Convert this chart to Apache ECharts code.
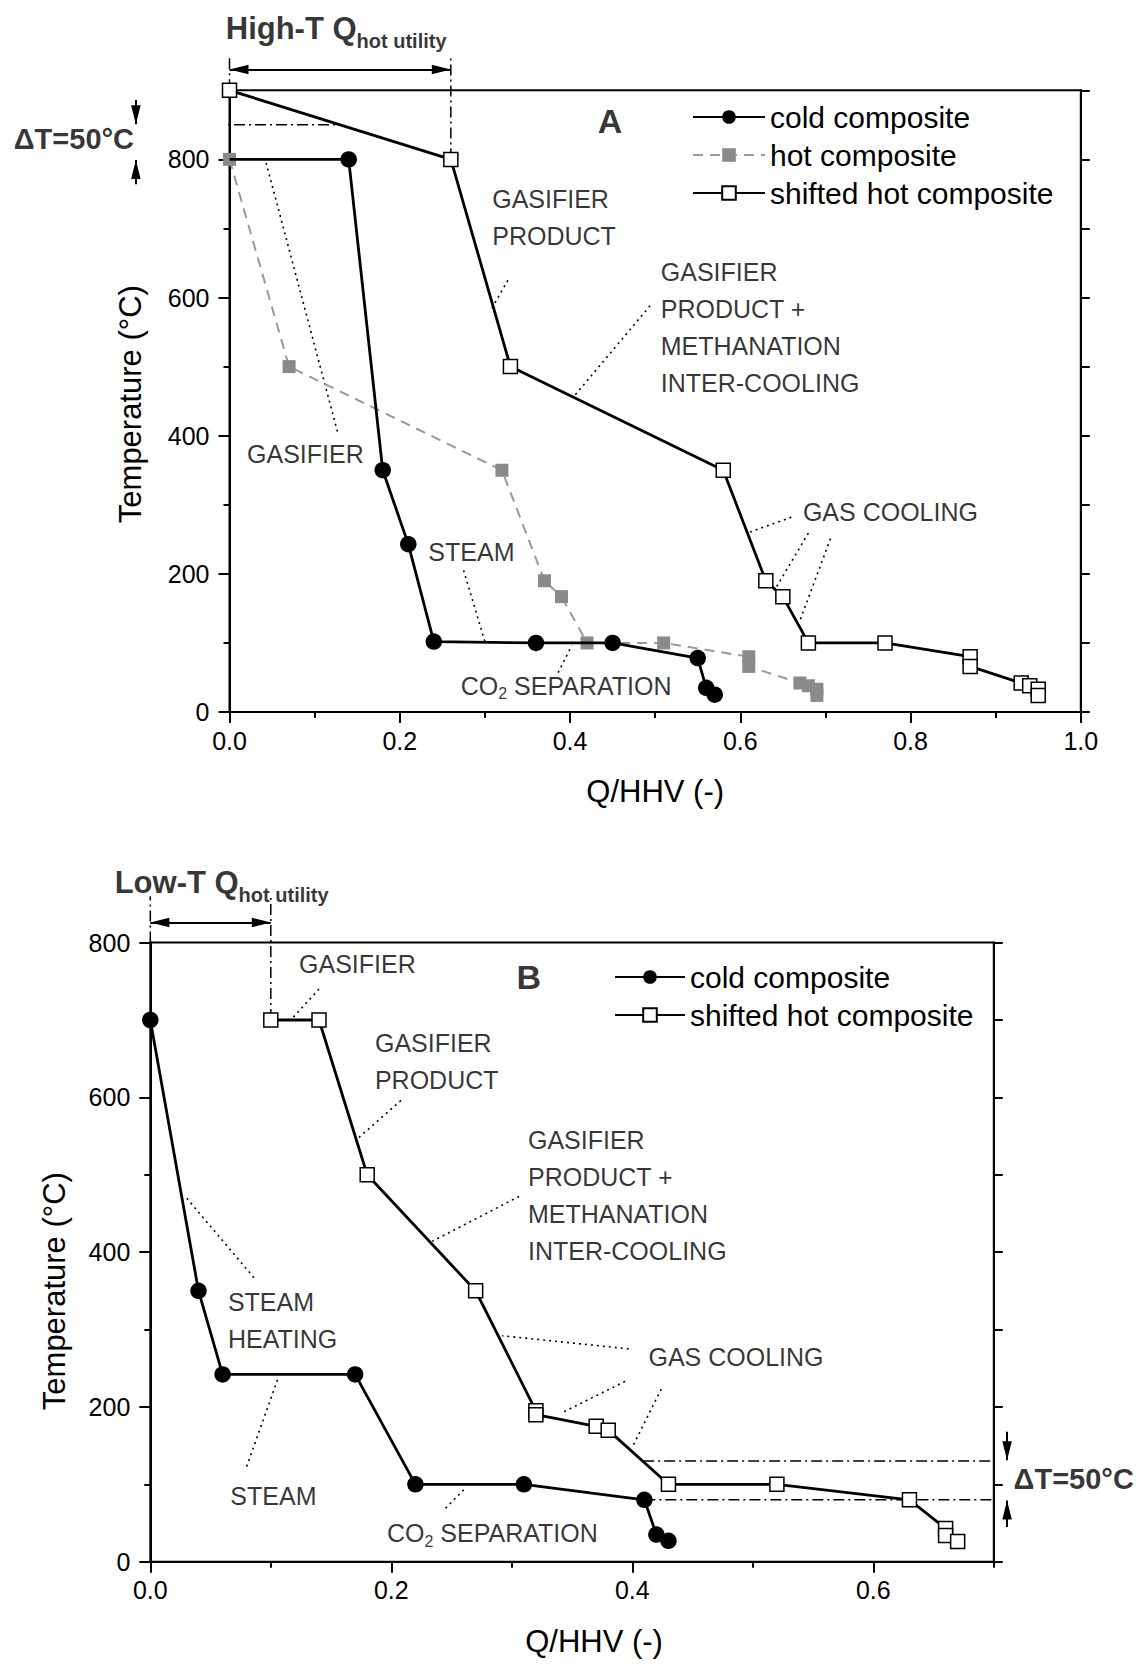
<!DOCTYPE html>
<html>
<head>
<meta charset="utf-8">
<script src="https://cdn.jsdelivr.net/npm/echarts@6.0.0/dist/echarts.min.js"></script>
<style>
  html, body { margin: 0; padding: 0; background: #fff; }
  #chart { width: 1136px; height: 1666px; }
</style>
</head>
<body>
<div id="chart"></div>
<script>
// ---------- Panel A: high-temperature case ----------
const coldA = [[0, 800], [0.14, 800], [0.18, 350], [0.21, 243], [0.24, 102], [0.36, 100], [0.45, 100], [0.55, 78], [0.56, 35], [0.57, 25]];
const hotA = [[0, 800], [0.07, 500], [0.32, 350], [0.37, 190], [0.39, 167], [0.42, 100], [0.51, 100], [0.61, 80], [0.61, 66], [0.67, 42], [0.68, 38], [0.69, 33], [0.69, 24]];
const shiftedA = [[0, 900], [0.26, 800], [0.33, 500], [0.58, 350], [0.63, 190], [0.65, 167], [0.68, 100], [0.77, 100], [0.87, 80], [0.87, 66], [0.93, 42], [0.94, 38], [0.95, 33], [0.95, 24]];

// ---------- Panel B: low-temperature case ----------
const coldB = [[0, 700], [0.04, 350], [0.06, 242], [0.17, 242], [0.22, 100], [0.31, 100], [0.41, 80], [0.42, 35], [0.43, 27]];
const shiftedB = [[0.1, 700], [0.14, 700], [0.18, 500], [0.27, 350], [0.32, 195], [0.32, 190], [0.37, 175], [0.38, 170], [0.43, 100], [0.52, 100], [0.63, 80], [0.66, 43], [0.66, 34], [0.67, 26]];

// tick labels
const xLabelsA = [0, 0.2, 0.4, 0.6, 0.8, 1.0];
const yLabelsA = [0, 200, 400, 600, 800];
const xLabelsB = [0, 0.2, 0.4, 0.6];
const yLabelsB = [0, 200, 400, 600, 800];

// process annotations: [Q, T, text]
const notesA = [
  [0.308, 716, 'GASIFIER\nPRODUCT'],
  [0.506, 557, 'GASIFIER\nPRODUCT +\nMETHANATION\nINTER-COOLING'],
  [0.02, 373, 'GASIFIER'],
  [0.233, 232, 'STEAM'],
  [0.271, 38, 'CO{sub|2} SEPARATION'],
  [0.673, 289, 'GAS COOLING']
];
const notesB = [
  [0.123, 772, 'GASIFIER'],
  [0.186, 646, 'GASIFIER\nPRODUCT'],
  [0.313, 473, 'GASIFIER\nPRODUCT +\nMETHANATION\nINTER-COOLING'],
  [0.064, 312, 'STEAM\nHEATING'],
  [0.066, 85, 'STEAM'],
  [0.196, 37, 'CO{sub|2} SEPARATION'],
  [0.413, 265, 'GAS COOLING']
];

// dotted leaders from the annotations to the curves
const leadersA = [
  [[0.043, 795], [0.127, 405]],
  [[0.327, 625], [0.308, 584]],
  [[0.494, 588], [0.404, 456]],
  [[0.275, 205], [0.300, 102]],
  [[0.386, 57], [0.402, 96]],
  [[0.660, 282], [0.608, 259]],
  [[0.680, 259], [0.642, 180]],
  [[0.706, 251], [0.670, 132]]
];
const leadersB = [
  [[0.140, 740], [0.116, 699]],
  [[0.208, 596], [0.173, 548]],
  [[0.306, 472], [0.234, 414]],
  [[0.086, 367], [0.029, 472]],
  [[0.080, 123], [0.106, 237]],
  [[0.245, 69], [0.262, 96]],
  [[0.397, 275], [0.292, 292]],
  [[0.394, 233], [0.341, 192]],
  [[0.424, 223], [0.400, 148]]
];

// dash-dot guide lines (utility span and pinch temperature difference)
const guidesA = [
  [[0, 900], [0, 951]],
  [[0.26, 800], [0.26, 951]],
  [[-0.118, 850], [0.13, 850]],
  [[-0.128, 800], [0, 800]]
];
const guidesB = [
  [[0, 800], [0, 860]],
  [[0.1, 700], [0.1, 860]],
  [[0.409, 130], [0.73, 130]],
  [[0.41, 80], [0.73, 80]]
];

// arrows (tip at the last point)
const spanArrowA = [[0, 930], [0.26, 930]];
const spanArrowB = [[0, 826], [0.1, 826]];
const pinchArrowsA = [[[-0.11, 886], [-0.11, 851]], [[-0.11, 764], [-0.11, 799]]];
const pinchArrowsB = [[[0.711, 168], [0.711, 131]], [[0.711, 45], [0.711, 79]]];

// bold headings: [Q, T, text]
const headsA = [
  [-0.005, 990, '{m|High-T Q}{s|hot utility}'],
  [0.432, 855, '{big|A}'],
  [-0.254, 829, '{dt|ΔT=50°C}']
];
const headsB = [
  [-0.030, 878, '{m|Low-T Q}{s|hot utility}'],
  [0.3035, 755, '{big|B}'],
  [0.716, 107, '{dt|ΔT=50°C}']
];

// ---------- styling / option building ----------
const FONT = '"Liberation Sans", Arial, Helvetica, sans-serif';
const INK = '#000';
const GREY = '#8a8a8a';
// slim arrow head whose tip sits at the symbol centre
const ARROW_HEAD = 'path://M10,10L12.5,29L7.5,29ZM0,-9M20,29';

const chart = echarts.init(document.getElementById('chart'), null, { renderer: 'svg', width: 1136, height: 1666 });

function mainX(gi, max, labels, nameGap, namePad) {
  return {
    type: 'value', gridIndex: gi, position: 'bottom', min: 0, max: max,
    axisLine: { show: true, onZero: false, lineStyle: { color: INK, width: 2 } },
    axisTick: { show: true, inside: false, length: 11, customValues: labels, lineStyle: { color: INK, width: 2 } },
    axisLabel: { show: true, customValues: labels, formatter: v => v.toFixed(1), color: INK, fontSize: 25, fontFamily: FONT, margin: 16 },
    splitLine: { show: false },
    name: 'Q/HHV (-)', nameLocation: 'middle', nameGap: nameGap,
    nameTextStyle: { color: INK, fontSize: 31, fontFamily: FONT, padding: namePad }
  };
}
function minorX(gi, max) {
  return {
    type: 'value', gridIndex: gi, position: 'bottom', min: 0, max: max, interval: 0.1,
    axisLine: { show: false, onZero: false },
    axisTick: { show: true, inside: false, length: 6, lineStyle: { color: INK, width: 2 } },
    axisLabel: { show: false }, splitLine: { show: false }
  };
}
function mainY(gi, max, labels, nameGap, namePad) {
  return {
    type: 'value', gridIndex: gi, position: 'left', min: 0, max: max,
    axisLine: { show: true, onZero: false, lineStyle: { color: INK, width: 2 } },
    axisTick: { show: true, inside: false, length: 11, customValues: labels, lineStyle: { color: INK, width: 2 } },
    axisLabel: { show: true, customValues: labels, color: INK, fontSize: 25, fontFamily: FONT, margin: 20 },
    splitLine: { show: false },
    name: 'Temperature (°C)', nameLocation: 'middle', nameGap: nameGap, nameRotate: 90,
    nameTextStyle: { color: INK, fontSize: 31, fontFamily: FONT, padding: namePad }
  };
}
function minorY(gi, max) {
  return {
    type: 'value', gridIndex: gi, position: 'left', min: 0, max: max, interval: 100,
    axisLine: { show: false, onZero: false },
    axisTick: { show: true, inside: false, length: 6, lineStyle: { color: INK, width: 2 } },
    axisLabel: { show: false }, splitLine: { show: false }
  };
}
function rightY(gi, max) {
  return {
    type: 'value', gridIndex: gi, position: 'right', min: 0, max: max, interval: 100,
    axisLine: { show: true, onZero: false, lineStyle: { color: INK, width: 2 } },
    axisTick: { show: true, inside: false, length: 9, lineStyle: { color: INK, width: 2 } },
    axisLabel: { show: false }, splitLine: { show: false }
  };
}

function coldSeries(data, xi, yi) {
  return {
    name: 'cold composite', type: 'line', xAxisIndex: xi, yAxisIndex: yi,
    data: data.map((p, i) => (i === 0 && p[1] === 800) ? { value: p, symbol: 'none' } : p),
    symbol: 'circle', symbolSize: 16.5, itemStyle: { color: INK },
    lineStyle: { color: INK, width: 2.8 }, z: 4, emphasis: { disabled: true }
  };
}
function hotSeries(data, xi, yi) {
  return {
    name: 'hot composite', type: 'line', xAxisIndex: xi, yAxisIndex: yi, data: data,
    symbol: 'rect', symbolSize: 13, itemStyle: { color: GREY },
    lineStyle: { color: '#999', width: 2, type: [10, 7] }, z: 3, emphasis: { disabled: true }
  };
}
function shiftedSeries(data, xi, yi) {
  return {
    name: 'shifted hot composite', type: 'line', xAxisIndex: xi, yAxisIndex: yi, data: data,
    symbol: 'rect', symbolSize: 14, itemStyle: { color: '#fff', borderColor: INK, borderWidth: 1.5 },
    lineStyle: { color: INK, width: 2.8 }, z: 4, emphasis: { disabled: true }
  };
}
function strokeSeries(segs, xi, yi, dash, width) {
  return segs.map(seg => ({
    type: 'line', xAxisIndex: xi, yAxisIndex: yi, data: seg, symbol: 'none', clip: false,
    silent: true, lineStyle: { color: INK, width: width, type: dash }, z: 2, emphasis: { disabled: true }
  }));
}
function arrowSeries(segs, xi, yi, symbols) {
  return {
    type: 'lines', coordinateSystem: 'cartesian2d', xAxisIndex: xi, yAxisIndex: yi,
    clip: false, silent: true, symbol: symbols, symbolSize: 38,
    lineStyle: { color: INK, width: 2, opacity: 1, curveness: 0 },
    data: segs.map(s => ({ coords: s })), z: 5
  };
}
const richText = {
  sub: { fontSize: 16, lineHeight: 16, padding: [16, 0, 0, 0], color: INK, fontFamily: FONT },
  m: { fontSize: 31, fontWeight: 'bold', lineHeight: 50, color: INK, fontFamily: FONT },
  s: { fontSize: 20, fontWeight: 'bold', lineHeight: 20, padding: [26, 0, 0, 0], color: INK, fontFamily: FONT },
  big: { fontSize: 34, fontWeight: 'bold', color: INK, fontFamily: FONT },
  dt: { fontSize: 29, fontWeight: 'bold', color: INK, fontFamily: FONT }
};
function textSeries(items, xi, yi) {
  return {
    type: 'scatter', xAxisIndex: xi, yAxisIndex: yi, clip: false, silent: true,
    symbolSize: 1, itemStyle: { color: 'rgba(0,0,0,0)' },
    data: items.map(n => ({ value: [n[0], n[1]], name: n[2] })),
    label: {
      show: true, position: 'right', distance: 0, formatter: p => p.name,
      color: INK, fontSize: 25, fontFamily: FONT, lineHeight: 37, rich: richText
    },
    z: 6, emphasis: { disabled: true }
  };
}

const legendBase = {
  orient: 'vertical', selectedMode: false, itemHeight: 17, itemGap: 8, padding: 0,
  textStyle: { color: INK, fontSize: 30, fontFamily: FONT }
};

const option = {
  animation: false,
  backgroundColor: '#fff',
  textStyle: { fontFamily: FONT },
  grid: [
    { left: 229.5, top: 90.3, width: 851.3, height: 621.7, show: true, borderColor: INK, borderWidth: 2, backgroundColor: 'transparent', containLabel: false, outerBoundsMode: 'none' },
    { left: 150.3, top: 942.6, width: 843.5, height: 619.1, show: true, borderColor: INK, borderWidth: 2, backgroundColor: 'transparent', containLabel: false, outerBoundsMode: 'none' }
  ],
  legend: [
    Object.assign({}, legendBase, { left: 692, top: 102, itemWidth: 72, data: ['cold composite', 'hot composite', 'shifted hot composite'] }),
    Object.assign({}, legendBase, { left: 614, top: 962, itemWidth: 70, data: ['cold composite', 'shifted hot composite'] })
  ],
  xAxis: [
    mainX(0, 1, xLabelsA, 64, [0, 0, 0, 0]),
    minorX(0, 1),
    mainX(1, 0.7, xLabelsB, 64, [0, 0, 0, 44]),
    minorX(1, 0.7)
  ],
  yAxis: [
    mainY(0, 900, yLabelsA, 84, [0, 6, 0, 0]),
    minorY(0, 900),
    rightY(0, 900),
    mainY(1, 800, yLabelsB, 80, [0, 78, 0, 0]),
    minorY(1, 800),
    rightY(1, 800)
  ],
  series: [
    // panel A
    ...strokeSeries(guidesA, 0, 0, [11, 4, 2, 4], 1.5),
    ...strokeSeries(leadersA, 0, 0, [2, 4], 1.6),
    coldSeries(coldA, 0, 0),
    hotSeries(hotA, 0, 0),
    shiftedSeries(shiftedA, 0, 0),
    arrowSeries([spanArrowA], 0, 0, [ARROW_HEAD, ARROW_HEAD]),
    arrowSeries(pinchArrowsA, 0, 0, ['none', ARROW_HEAD]),
    textSeries(notesA, 0, 0),
    textSeries(headsA, 0, 0),
    // panel B
    ...strokeSeries(guidesB, 2, 3, [11, 4, 2, 4], 1.5),
    ...strokeSeries(leadersB, 2, 3, [2, 4], 1.6),
    coldSeries(coldB, 2, 3),
    shiftedSeries(shiftedB, 2, 3),
    arrowSeries([spanArrowB], 2, 3, [ARROW_HEAD, ARROW_HEAD]),
    arrowSeries(pinchArrowsB, 2, 3, ['none', ARROW_HEAD]),
    textSeries(notesB, 2, 3),
    textSeries(headsB, 2, 3)
  ]
};

chart.setOption(option);
</script>
</body>
</html>
